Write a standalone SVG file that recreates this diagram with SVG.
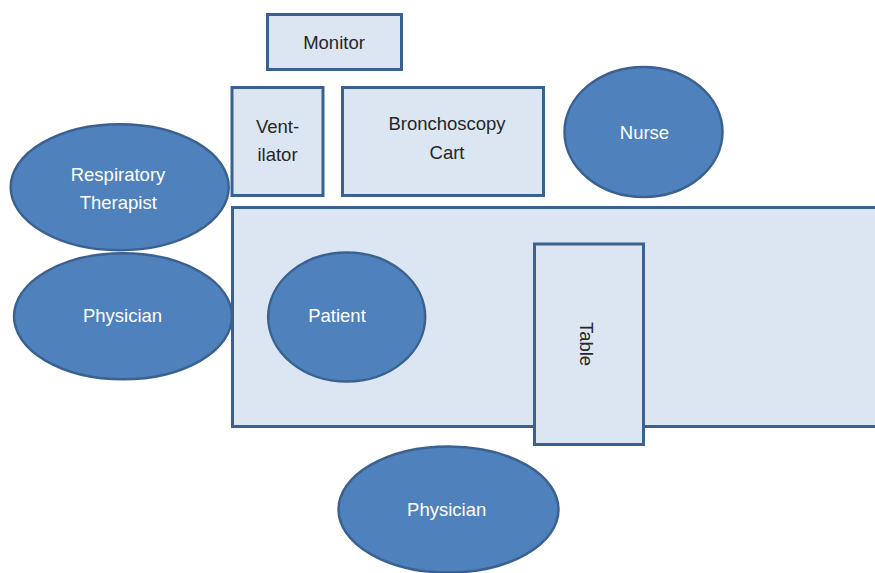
<svg xmlns="http://www.w3.org/2000/svg" width="875" height="573" viewBox="0 0 875 573">
<style>
.box{fill:#dce6f2;stroke:#3b6191;stroke-width:3}
.oval{fill:#4f81bd;stroke:#3b6191;stroke-width:2.5}
.t{font-family:"Liberation Sans",Arial,sans-serif;font-size:18.5px;text-anchor:middle}
.dk{fill:#262626}
.wt{fill:#ffffff}
</style>
<rect width="875" height="573" fill="#ffffff"/>
<g id="room">
<rect class="box" x="232.5" y="207.5" width="660" height="219"/>
</g>
<g id="monitor">
<rect class="box" x="267.5" y="14.5" width="134" height="55"/>
<text class="t dk" x="334" y="48.5">Monitor</text>
</g>
<g id="ventilator">
<rect class="box" x="232" y="87.5" width="91" height="108"/>
<text class="t dk" x="277.5" y="132.5">Vent-</text>
<text class="t dk" x="277.5" y="161">ilator</text>
</g>
<g id="cart">
<rect class="box" x="342.5" y="87.5" width="201" height="108"/>
<text class="t dk" x="447" y="129.5">Bronchoscopy</text>
<text class="t dk" x="447" y="158.5">Cart</text>
</g>
<g id="table">
<rect class="box" x="534.5" y="244" width="109" height="200.5"/>
<text class="t dk" transform="translate(586.3,344) rotate(90)" x="0" y="6.5">Table</text>
</g>
<g id="nurse">
<ellipse class="oval" cx="643.5" cy="132" rx="79" ry="65"/>
<text class="t wt" x="644.5" y="138.5">Nurse</text>
</g>
<g id="respiratory-therapist">
<ellipse class="oval" cx="119.7" cy="187.2" rx="109" ry="63"/>
<text class="t wt" x="118" y="180.7">Respiratory</text>
<text class="t wt" x="118.3" y="209">Therapist</text>
</g>
<g id="physician-left">
<ellipse class="oval" cx="123" cy="316.3" rx="109" ry="63"/>
<text class="t wt" x="122.5" y="322">Physician</text>
</g>
<g id="patient">
<ellipse class="oval" cx="346.7" cy="317" rx="78.5" ry="64.5"/>
<text class="t wt" x="337" y="321.7">Patient</text>
</g>
<g id="physician-bottom">
<ellipse class="oval" cx="448.5" cy="509.5" rx="110" ry="63"/>
<text class="t wt" x="446.7" y="516">Physician</text>
</g>
<g id="connectors"></g>
</svg>
